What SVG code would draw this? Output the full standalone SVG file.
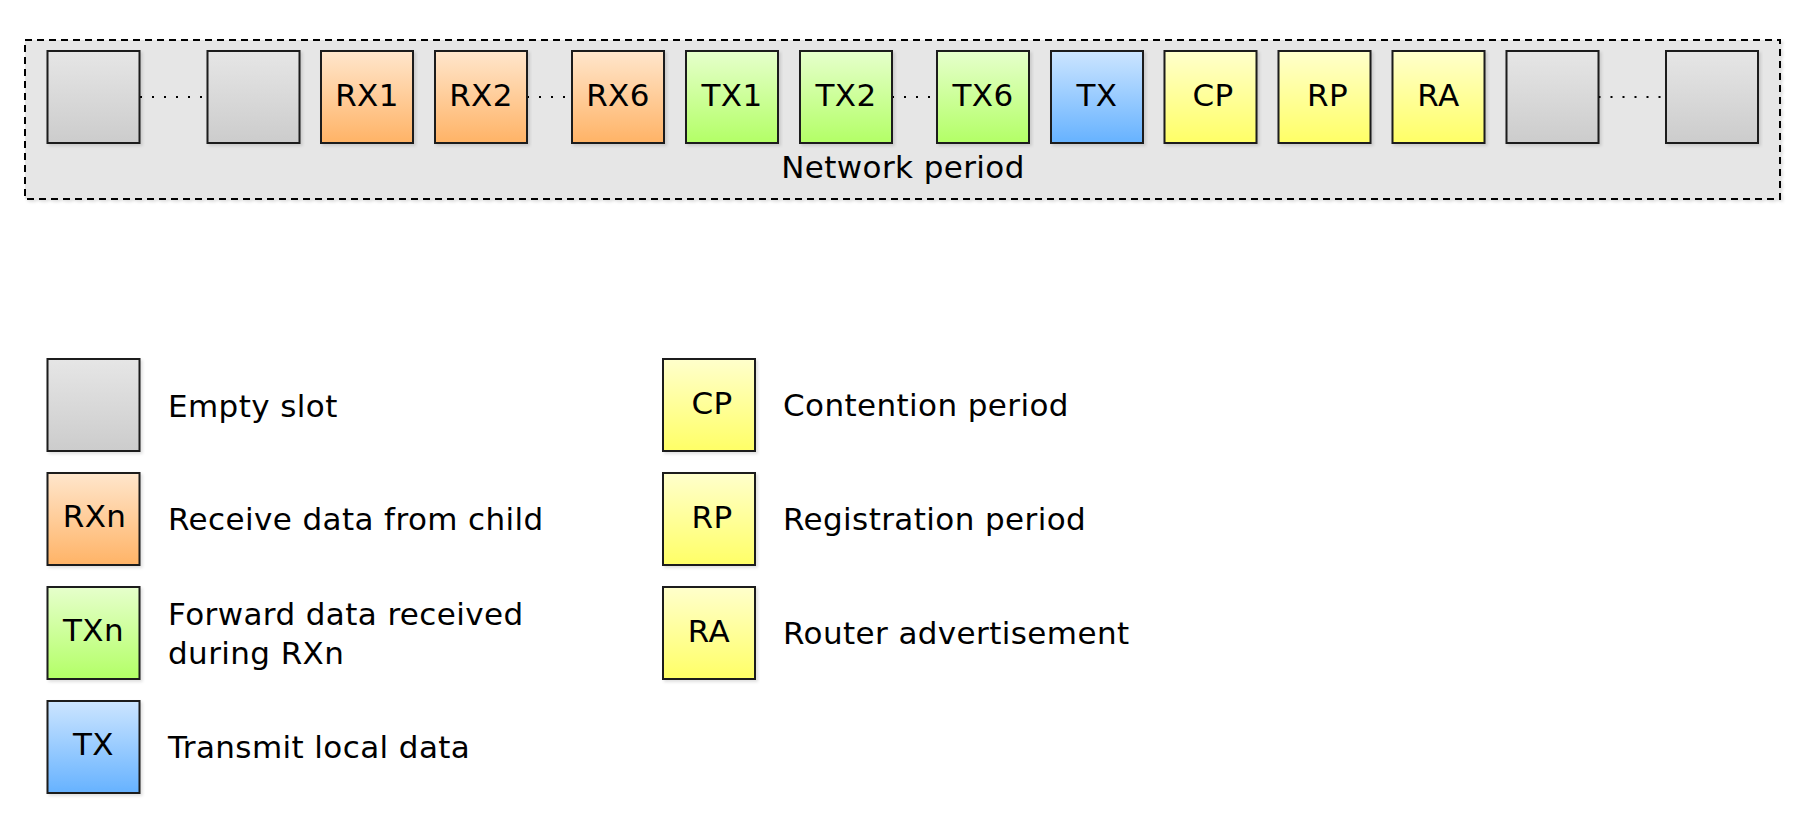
<svg xmlns="http://www.w3.org/2000/svg" width="1805" height="816" viewBox="0 0 1805 816">
  <defs>
    <linearGradient id="gGray" x1="0" y1="0" x2="0" y2="1"><stop offset="0" stop-color="#e6e6e6"/><stop offset="1" stop-color="#cccccc"/></linearGradient>
    <linearGradient id="gOrange" x1="0" y1="0" x2="0" y2="1"><stop offset="0" stop-color="#ffe6cc"/><stop offset="1" stop-color="#ffb366"/></linearGradient>
    <linearGradient id="gGreen" x1="0" y1="0" x2="0" y2="1"><stop offset="0" stop-color="#e6ffcc"/><stop offset="1" stop-color="#b3ff66"/></linearGradient>
    <linearGradient id="gBlue" x1="0" y1="0" x2="0" y2="1"><stop offset="0" stop-color="#cce5ff"/><stop offset="1" stop-color="#66b2ff"/></linearGradient>
    <linearGradient id="gYellow" x1="0" y1="0" x2="0" y2="1"><stop offset="0" stop-color="#ffffcc"/><stop offset="1" stop-color="#ffff66"/></linearGradient>
    <filter id="shadow" x="-5%" y="-5%" width="110%" height="115%">
      <feDropShadow dx="2" dy="2" stdDeviation="1.5" flood-color="#000" flood-opacity="0.12"/>
    </filter>
  </defs>
  <style>
    .slot { stroke: #1a1a1a; stroke-width: 2; filter: url(#shadow); }
    .gray { fill: url(#gGray); }
    .orange { fill: url(#gOrange); }
    .green { fill: url(#gGreen); }
    .blue { fill: url(#gBlue); }
    .yellow { fill: url(#gYellow); }
    text { font-family: "DejaVu Sans", Verdana, sans-serif; font-size: 31px; letter-spacing: 0.4px; fill: #000; }
    .c { text-anchor: middle; }
    .dots { stroke: #000; stroke-width: 2; stroke-dasharray: 2 10; fill: none; }
    .frame { fill: #e6e6e6; stroke: #000; stroke-width: 2; stroke-dasharray: 7 5; filter: url(#shadow); }
  </style>

  <g id="network-period">
    <rect class="frame" x="25" y="40" width="1755" height="159"/>
    <text class="c" x="903" y="178">Network period</text>
  </g>

  <g id="connectors">
    <line class="dots" x1="140" y1="97" x2="207" y2="97"/>
    <line class="dots" x1="527" y1="97" x2="572" y2="97"/>
    <line class="dots" x1="892" y1="97" x2="937" y2="97"/>
    <line class="dots" x1="1598.5" y1="97" x2="1666" y2="97"/>
  </g>

  <g id="slot-empty-1"><rect class="slot gray" x="47.5" y="51" width="92" height="92"/></g>
  <g id="slot-empty-2"><rect class="slot gray" x="207.5" y="51" width="92" height="92"/></g>
  <g id="slot-rx1"><rect class="slot orange" x="321" y="51" width="92" height="92"/><text class="c" x="367" y="106">RX1</text></g>
  <g id="slot-rx2"><rect class="slot orange" x="435" y="51" width="92" height="92"/><text class="c" x="481" y="106">RX2</text></g>
  <g id="slot-rx6"><rect class="slot orange" x="572" y="51" width="92" height="92"/><text class="c" x="618" y="106">RX6</text></g>
  <g id="slot-tx1"><rect class="slot green" x="686" y="51" width="92" height="92"/><text class="c" x="732" y="106">TX1</text></g>
  <g id="slot-tx2"><rect class="slot green" x="800" y="51" width="92" height="92"/><text class="c" x="846" y="106">TX2</text></g>
  <g id="slot-tx6"><rect class="slot green" x="937" y="51" width="92" height="92"/><text class="c" x="983" y="106">TX6</text></g>
  <g id="slot-tx"><rect class="slot blue" x="1051" y="51" width="92" height="92"/><text class="c" x="1097" y="106">TX</text></g>
  <g id="slot-cp"><rect class="slot yellow" x="1164.5" y="51" width="92" height="92"/><text class="c" x="1213" y="106">CP</text></g>
  <g id="slot-rp"><rect class="slot yellow" x="1278.5" y="51" width="92" height="92"/><text class="c" x="1327.5" y="106">RP</text></g>
  <g id="slot-ra"><rect class="slot yellow" x="1392.5" y="51" width="92" height="92"/><text class="c" x="1438.5" y="106">RA</text></g>
  <g id="slot-empty-3"><rect class="slot gray" x="1506.5" y="51" width="92" height="92"/></g>
  <g id="slot-empty-4"><rect class="slot gray" x="1666" y="51" width="92" height="92"/></g>

  <g id="legend-empty"><rect class="slot gray" x="47.5" y="359" width="92" height="92"/><text x="168" y="416.5">Empty slot</text></g>
  <g id="legend-rxn"><rect class="slot orange" x="47.5" y="473" width="92" height="92"/><text class="c" x="94.5" y="527">RXn</text><text x="168" y="530">Receive data from child</text></g>
  <g id="legend-txn"><rect class="slot green" x="47.5" y="587" width="92" height="92"/><text class="c" x="93.5" y="641">TXn</text><text x="168" y="625">Forward data received</text><text x="168" y="664">during RXn</text></g>
  <g id="legend-tx"><rect class="slot blue" x="47.5" y="701" width="92" height="92"/><text class="c" x="93.5" y="755">TX</text><text x="168" y="757.5">Transmit local data</text></g>

  <g id="legend-cp"><rect class="slot yellow" x="663" y="359" width="92" height="92"/><text class="c" x="712" y="413.5">CP</text><text x="783" y="415.5">Contention period</text></g>
  <g id="legend-rp"><rect class="slot yellow" x="663" y="473" width="92" height="92"/><text class="c" x="712" y="527.5">RP</text><text x="783" y="530">Registration period</text></g>
  <g id="legend-ra"><rect class="slot yellow" x="663" y="587" width="92" height="92"/><text class="c" x="709" y="641.5">RA</text><text x="783" y="643.5">Router advertisement</text></g>
</svg>
